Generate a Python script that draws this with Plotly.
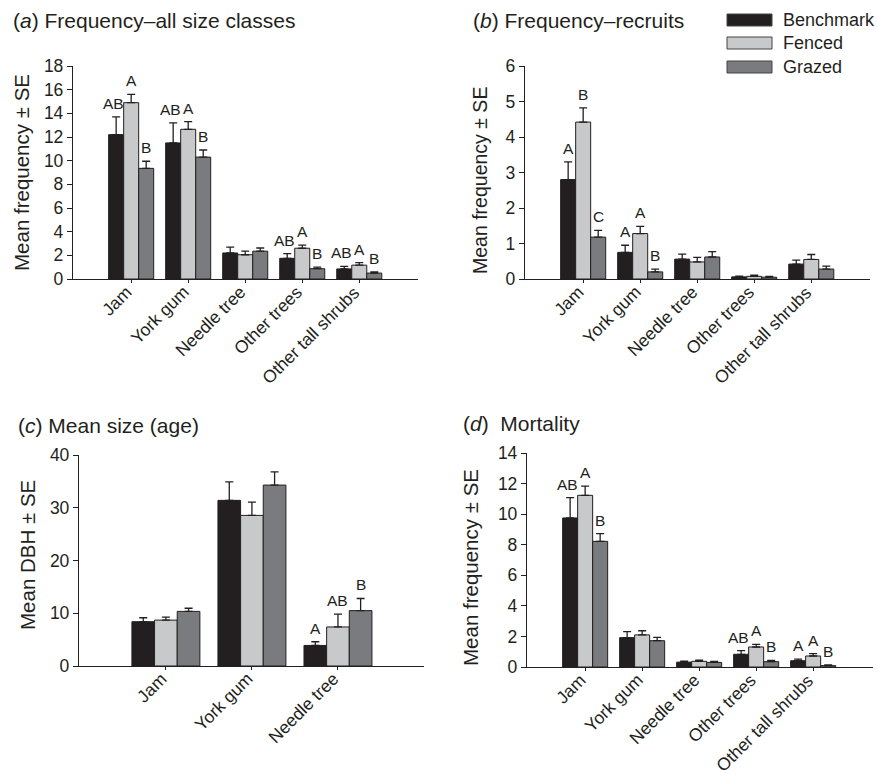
import plotly.graph_objects as go

# ---------------- data ----------------
cats5 = ["Jam", "York gum", "Needle tree", "Other trees", "Other tall shrubs"]
cats3 = ["Jam", "York gum", "Needle tree"]
series = ["Benchmark", "Fenced", "Grazed"]

# (a) Frequency - all size classes
a_bench = [12.2, 11.5, 2.2, 1.75, 0.85]
a_bench_se = [1.5, 1.7, 0.5, 0.4, 0.22]
a_fenced = [14.9, 12.65, 2.05, 2.6, 1.17]
a_fenced_se = [0.7, 0.65, 0.3, 0.27, 0.22]
a_grazed = [9.35, 10.3, 2.35, 0.87, 0.5]
a_grazed_se = [0.6, 0.6, 0.27, 0.13, 0.1]
a_let_bench = ["AB", "AB", "", "AB", "AB"]
a_let_fenced = ["A", "A", "", "A", "A"]
a_let_grazed = ["B", "B", "", "B", "B"]

# (b) Frequency - recruits
b_bench = [2.8, 0.75, 0.56, 0.06, 0.42]
b_bench_se = [0.5, 0.2, 0.14, 0.02, 0.11]
b_fenced = [4.42, 1.28, 0.48, 0.075, 0.55]
b_fenced_se = [0.4, 0.2, 0.13, 0.03, 0.14]
b_grazed = [1.18, 0.2, 0.62, 0.05, 0.28]
b_grazed_se = [0.19, 0.08, 0.15, 0.02, 0.08]
b_let_bench = ["A", "A", "", "", ""]
b_let_fenced = ["B", "A", "", "", ""]
b_let_grazed = ["C", "B", "", "", ""]

# (c) Mean size (age)
c_bench = [8.4, 31.4, 3.9]
c_bench_se = [0.75, 3.5, 0.7]
c_fenced = [8.7, 28.55, 7.4]
c_fenced_se = [0.55, 2.5, 2.45]
c_grazed = [10.35, 34.3, 10.5]
c_grazed_se = [0.6, 2.5, 2.3]
c_let_bench = ["", "", "A"]
c_let_fenced = ["", "", "AB"]
c_let_grazed = ["", "", "B"]

# (d) Mortality
d_bench = [9.75, 1.92, 0.32, 0.83, 0.41]
d_bench_se = [1.33, 0.4, 0.06, 0.24, 0.1]
d_fenced = [11.23, 2.1, 0.37, 1.31, 0.72]
d_fenced_se = [0.6, 0.27, 0.08, 0.17, 0.15]
d_grazed = [8.22, 1.72, 0.3, 0.35, 0.09]
d_grazed_se = [0.5, 0.22, 0.07, 0.08, 0.04]
d_let_bench = ["AB", "", "", "AB", "A"]
d_let_fenced = ["A", "", "", "A", "A"]
d_let_grazed = ["B", "", "", "B", "B"]

# ---------------- style ----------------
W, H = 877, 777
FONT = "Liberation Sans, Arial, Helvetica, sans-serif"
INK = "#231f20"
COLORS = ["#231f20", "#c8c9cb", "#7a7b7e"]
BARGAP = 0.21
BARW = (1 - BARGAP) / 3.0


def px(x):
    return x / W


def py(y):
    return 1 - y / H


panels = [
    dict(key="a", cats=cats5,
         vals=[a_bench, a_fenced, a_grazed],
         ses=[a_bench_se, a_fenced_se, a_grazed_se],
         lets=[a_let_bench, a_let_fenced, a_let_grazed],
         xdom=(73, 418), ydom=(66, 279), yr=(0, 18), dt=2,
         xr=(-1.02, 5.03), ytitle="Mean frequency ± SE",
         ytx=22, yty=173, ytsize=20.5,
         title="(<i>a</i>) Frequency–all size classes", tx=11, ty=21),
    dict(key="b", cats=cats5,
         vals=[b_bench, b_fenced, b_grazed],
         ses=[b_bench_se, b_fenced_se, b_grazed_se],
         lets=[b_let_bench, b_let_fenced, b_let_grazed],
         xdom=(525, 870), ydom=(66, 279), yr=(0, 6), dt=1,
         xr=(-1.02, 5.03), ytitle="Mean frequency ± SE",
         ytx=480, yty=181, ytsize=19.5,
         title="(<i>b</i>) Frequency–recruits", tx=471, ty=21),
    dict(key="c", cats=cats3,
         vals=[c_bench, c_fenced, c_grazed],
         ses=[c_bench_se, c_fenced_se, c_grazed_se],
         lets=[c_let_bench, c_let_fenced, c_let_grazed],
         xdom=(79, 424), ydom=(455, 666), yr=(0, 40), dt=10,
         xr=(-1.01, 3.0), ytitle="Mean DBH ± SE",
         ytx=27, yty=555, ytsize=20.5,
         title="(<i>c</i>) Mean size (age)", tx=16, ty=425),
    dict(key="d", cats=cats5,
         vals=[d_bench, d_fenced, d_grazed],
         ses=[d_bench_se, d_fenced_se, d_grazed_se],
         lets=[d_let_bench, d_let_fenced, d_let_grazed],
         xdom=(527, 873), ydom=(453, 667), yr=(0, 14), dt=2,
         xr=(-1.02, 5.05), ytitle="Mean frequency ± SE",
         ytx=470, yty=568, ytsize=20.5,
         title="(<i>d</i>)  Mortality", tx=461, ty=424),
]

fig = go.Figure()
annotations = []
layout_axes = {}

for i, p in enumerate(panels):
    n = i + 1
    xa = "x" if n == 1 else f"x{n}"
    ya = "y" if n == 1 else f"y{n}"
    xkey = "xaxis" if n == 1 else f"xaxis{n}"
    ykey = "yaxis" if n == 1 else f"yaxis{n}"

    for s, name in enumerate(series):
        fig.add_trace(go.Bar(
            x=p["cats"], y=p["vals"][s], name=name,
            marker=dict(color=COLORS[s], line=dict(color=INK, width=1)),
            error_y=dict(type="data", symmetric=False, array=p["ses"][s],
                         arrayminus=[0] * len(p["ses"][s]),
                         color=INK, thickness=1.3, width=4),
            xaxis=xa, yaxis=ya, showlegend=False,
        ))
        # significance letters
        off = (s - 1) * BARW
        for k, lab in enumerate(p["lets"][s]):
            if lab:
                annotations.append(dict(
                    x=k + off, y=p["vals"][s][k] + p["ses"][s][k],
                    xref=xa, yref=ya, text=lab, showarrow=False,
                    yanchor="bottom", xanchor="center", yshift=3,
                    xshift=(-3 if s == 0 and len(lab) > 1 else 0),
                    font=dict(family=FONT, size=15.5, color=INK)))

    # rotated category labels (placed just under each tick)
    for k, cat in enumerate(p["cats"]):
        annotations.append(dict(
            x=k, y=p["yr"][0], xref=xa, yref=ya, text=cat,
            textangle=-45, showarrow=False,
            xanchor="right", yanchor="top", xshift=7, yshift=0,
            font=dict(family=FONT, size=17.5, color=INK)))

    layout_axes[xkey] = dict(
        domain=[px(p["xdom"][0]), px(p["xdom"][1])],
        anchor=ya, type="category", range=list(p["xr"]),
        showline=True, linecolor=INK, linewidth=1.3,
        ticks="outside", ticklen=3, tickcolor=INK, tickwidth=1,
        showticklabels=False,
        showgrid=False, zeroline=False, automargin=False,
    )
    layout_axes[ykey] = dict(
        domain=[py(p["ydom"][1]), py(p["ydom"][0])],
        anchor=xa, range=list(p["yr"]), dtick=p["dt"], tick0=0,
        showline=True, linecolor=INK, linewidth=1.3,
        ticks="outside", ticklen=5, tickcolor=INK, tickwidth=1,
        showgrid=False, zeroline=False, automargin=False,
        tickfont=dict(family=FONT, size=17.5, color=INK),
    )

    # y-axis title
    annotations.append(dict(
        x=px(p["ytx"]), y=py(p["yty"]), xref="paper", yref="paper",
        text=p["ytitle"], textangle=-90, showarrow=False,
        xanchor="center", yanchor="middle",
        font=dict(family=FONT, size=p["ytsize"], color=INK)))
    # panel title
    annotations.append(dict(
        x=px(p["tx"]), y=py(p["ty"]), xref="paper", yref="paper",
        text=p["title"], showarrow=False, xanchor="left", yanchor="middle",
        font=dict(family=FONT, size=21, color=INK)))

# manual legend (wide swatches like the original)
shapes = []
leg_rows = [20, 43, 67]
for s, name in enumerate(series):
    yc = leg_rows[s]
    shapes.append(dict(
        type="rect", xref="paper", yref="paper",
        x0=px(727), x1=px(772), y0=py(yc + 6), y1=py(yc - 6),
        fillcolor=COLORS[s], line=dict(color="#444", width=1)))
    annotations.append(dict(
        x=px(781), y=py(yc), xref="paper", yref="paper", text=name,
        showarrow=False, xanchor="left", yanchor="middle",
        font=dict(family=FONT, size=18, color=INK)))

fig.update_layout(
    width=W, height=H, margin=dict(l=0, r=0, t=0, b=0, autoexpand=False),
    autosize=False,
    paper_bgcolor="white", plot_bgcolor="white",
    barmode="group", bargap=BARGAP, bargroupgap=0,
    annotations=annotations, shapes=shapes,
    font=dict(family=FONT, color=INK),
    **layout_axes,
)

fig.write_html("out.html")
